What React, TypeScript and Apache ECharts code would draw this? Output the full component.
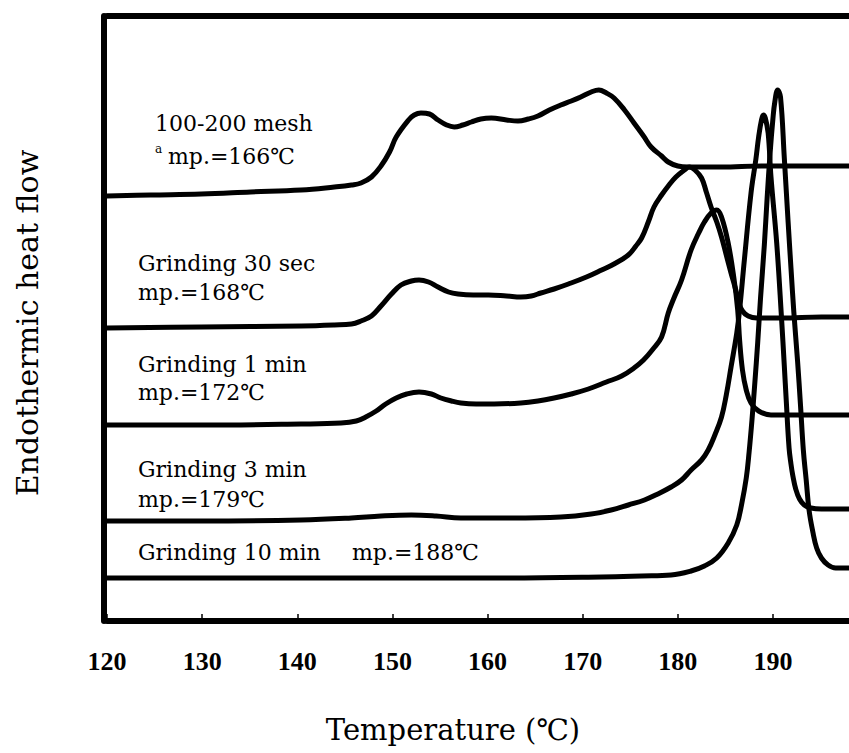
import React, { useEffect, useRef } from "react";
import * as echarts from "echarts";

// Temperature (°C) and endothermic heat flow (arbitrary units) for each sample
const meshT = [120, 124.6, 129.9, 135.1, 140.4, 143.9, 145.7, 146.7, 147.8, 148.8, 149.7, 150.4, 151.7, 152.3, 153.0, 153.9, 154.8, 155.7, 156.5, 157.4, 158.3, 159.3, 160.4, 162.0, 163.2, 164.3, 165.3, 166.5, 167.7, 168.8, 169.8, 170.9, 171.7, 172.5, 173.3, 174.4, 175.4, 176.4, 177.2, 178.3, 179.0, 180.0, 181.1, 184.6, 188.8, 193.0, 198];
const meshV = [425, 426, 427, 429, 431, 434, 436, 438, 444, 455, 469, 484, 501, 506, 508, 507, 501, 496, 494, 496, 499, 502, 503, 501, 500, 502, 505, 511, 516, 520, 524, 529, 531, 528, 523, 511, 498, 485, 474, 465, 459, 455, 454, 454, 455, 455, 455];

const sec30T = [120, 129.9, 140.4, 143.9, 145.7, 146.7, 147.8, 148.8, 149.9, 150.9, 152.0, 152.8, 153.8, 154.8, 155.9, 156.9, 158.5, 160.1, 162.0, 163.5, 164.6, 165.6, 167.0, 168.5, 170.4, 172.0, 173.3, 174.8, 175.6, 176.2, 176.9, 177.5, 178.3, 179.0, 179.8, 180.7, 181.2, 181.8, 182.5, 183.0, 183.5, 184.1, 184.6, 185.1, 185.6, 186.1, 186.4, 186.8, 187.4, 188.3, 190.9, 195.1, 198];
const sec30V = [293, 294, 295, 296, 297, 300, 305, 315, 327, 336, 340, 341, 339, 334, 329, 327, 326, 326, 325, 324, 325, 328, 332, 337, 344, 351, 357, 366, 375, 383, 399, 414, 426, 435, 444, 451, 454, 451, 443, 429, 414, 399, 384, 366, 348, 331, 319, 310, 305, 303, 303, 304, 304];

const min1T = [120, 129.9, 140.4, 144.6, 146.2, 147.2, 148.3, 149.3, 150.4, 151.5, 152.8, 154.1, 155.1, 156.2, 157.2, 158.8, 160.7, 163.5, 165.3, 167.0, 168.8, 170.6, 172.5, 174.1, 175.4, 176.4, 177.4, 178.3, 179.0, 179.6, 180.4, 181.4, 182.2, 182.8, 183.5, 184.1, 184.6, 185.3, 185.9, 186.3, 186.5, 186.8, 187.2, 187.7, 188.5, 189.8, 193.0, 198];
const min1V = [196, 196, 197, 198, 200, 204, 210, 217, 223, 227, 229, 227, 223, 220, 218, 217, 217, 218, 220, 223, 227, 232, 239, 245, 253, 261, 272, 284, 308, 323, 341, 371, 388, 399, 408, 411, 404, 378, 343, 311, 281, 251, 231, 218, 210, 206, 206, 206];

const min3T = [120, 129.9, 140.4, 145.7, 148.8, 152.0, 154.6, 157.2, 162.5, 167.7, 170.9, 173.0, 174.8, 176.5, 177.9, 179.3, 180.4, 181.4, 182.5, 183.2, 183.9, 184.6, 185.1, 185.6, 186.2, 186.5, 187.0, 187.7, 188.2, 188.5, 188.8, 189.0, 189.2, 189.5, 189.8, 190.4, 190.9, 191.2, 191.4, 191.7, 191.9, 192.1, 192.4, 192.8, 193.3, 194.0, 195.1, 198];
const min3V = [100, 100, 101, 103, 105, 106, 105, 103, 103, 104, 107, 111, 116, 121, 127, 134, 141, 151, 161, 171, 186, 204, 226, 254, 288, 311, 361, 428, 461, 484, 501, 506, 503, 488, 444, 378, 304, 255, 221, 173, 157, 145, 132, 122, 116, 113, 112, 112];

const min10T = [120, 140.4, 150.9, 161.4, 172.0, 176.2, 179.3, 181.4, 182.8, 184.1, 185.3, 186.2, 186.7, 187.2, 187.5, 187.8, 188.1, 188.4, 188.7, 189.1, 189.4, 189.7, 190.0, 190.2, 190.5, 190.8, 191.2, 191.6, 191.9, 192.2, 192.6, 192.9, 193.2, 193.5, 193.8, 194.2, 194.6, 195.1, 195.8, 196.6, 198];
const min10V = [43, 43, 43, 43, 44, 45, 46, 50, 55, 63, 78, 96, 116, 143, 169, 201, 238, 278, 323, 376, 424, 467, 502, 519, 531, 524, 463, 399, 353, 309, 259, 216, 171, 141, 111, 89, 73, 63, 56, 53, 53];

const seriesNames = ["100-200 mesh", "Grinding 30 sec", "Grinding 1 min", "Grinding 3 min", "Grinding 10 min"];
const seriesT = [meshT, sec30T, min1T, min3T, min10T];
const seriesV = [meshV, sec30V, min1V, min3V, min10V];

const xTitle = "Temperature (℃)";
const yTitle = "Endothermic heat flow";

const TEXT_FONT = '"DejaVu Serif", serif';

function label(text: string, x: number, y: number, size = 22) {
  return {
    type: "text",
    x,
    y,
    silent: true,
    style: {
      text,
      fill: "#000",
      fontFamily: TEXT_FONT,
      fontSize: size,
      textAlign: "left",
      textVerticalAlign: "middle",
      align: "left",
      verticalAlign: "middle",
    },
  };
}

export default function App() {
  const ref = useRef<HTMLDivElement>(null);

  useEffect(() => {
    if (!ref.current) return;
    const chart = echarts.init(ref.current, undefined, { renderer: "svg" });

    const series = seriesNames.map((name, i) => ({
      name,
      type: "line",
      xAxisIndex: 0,
      yAxisIndex: 0,
      data: seriesT[i].map((t, j) => [t, seriesV[i][j]]),
      showSymbol: false,
      symbol: "none",
      smooth: 0.4,
      lineStyle: { color: "#000", width: 5, cap: "round", join: "round" },
    }));

    chart.setOption({
      animation: false,
      backgroundColor: "#fff",
      grid: { left: 107, right: 0, top: 16, bottom: 132, containLabel: false },
      xAxis: [
        {
          type: "value",
          position: "bottom",
          min: 120,
          max: 198,
          interval: 10,
          axisLine: { show: true, onZero: false, lineStyle: { color: "#000", width: 6 } },
          axisTick: { show: true, inside: true, length: 7, lineStyle: { color: "#000", width: 1.5 } },
          axisLabel: {
            showMaxLabel: false,
            color: "#000",
            fontFamily: '"Liberation Serif", serif',
            fontWeight: "bold",
            fontSize: 26,
            margin: 27,
          },
          splitLine: { show: false },
        },
        {
          type: "value",
          position: "top",
          min: 120,
          max: 198,
          interval: 10,
          axisLine: { show: true, onZero: false, lineStyle: { color: "#000", width: 6 } },
          axisTick: { show: false },
          axisLabel: { show: false },
          splitLine: { show: false },
        },
      ],
      yAxis: {
        type: "value",
        min: 0,
        max: 605,
        offset: 3,
        axisLine: { show: true, onZero: false, lineStyle: { color: "#000", width: 6 } },
        axisTick: { show: false },
        axisLabel: { show: false },
        splitLine: { show: false },
      },
      series,
      graphic: [
        label("100-200 mesh", 155, 123.4),
        label("a", 155, 148.8, 12),
        label("mp.=166℃", 168, 156.4),
        label("Grinding 30 sec", 138, 263.4),
        label("mp.=168℃", 138, 292.4),
        label("Grinding 1 min", 138, 364.4),
        label("mp.=172℃", 138, 392.4),
        label("Grinding 3 min", 138, 469.4),
        label("mp.=179℃", 138, 499.4),
        label("Grinding 10 min", 138, 552.4),
        label("mp.=188℃", 352, 552.4),
        {
          type: "text",
          x: 453,
          y: 729.5,
          silent: true,
          style: {
            text: xTitle,
            fill: "#000",
            fontFamily: TEXT_FONT,
            fontSize: 29,
            textAlign: "center",
            textVerticalAlign: "middle",
            align: "center",
            verticalAlign: "middle",
          },
        },
        {
          type: "text",
          x: 27.6,
          y: 323,
          rotation: Math.PI / 2,
          silent: true,
          style: {
            text: yTitle,
            fill: "#000",
            fontFamily: TEXT_FONT,
            fontSize: 30,
            textAlign: "center",
            textVerticalAlign: "middle",
            align: "center",
            verticalAlign: "middle",
          },
        },
      ],
    });

    return () => chart.dispose();
  }, []);

  return (
    <div
      ref={ref}
      style={{ position: "fixed", left: 0, top: 0, width: 849, height: 753, background: "#fff" }}
    />
  );
}
